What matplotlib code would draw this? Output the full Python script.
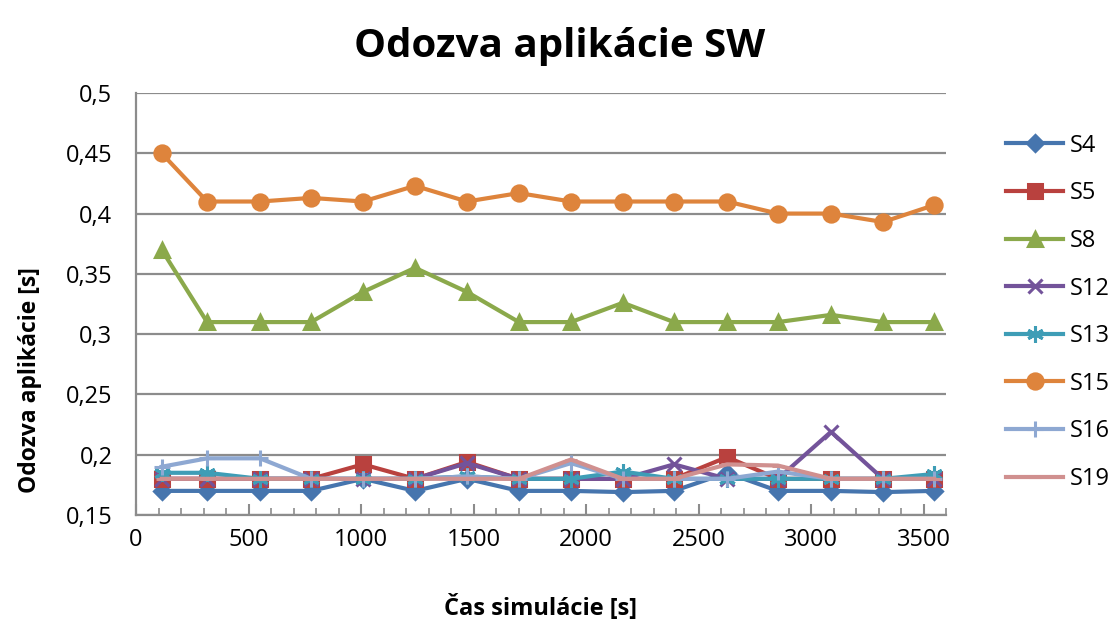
import matplotlib.pyplot as plt
from matplotlib.ticker import FuncFormatter, MultipleLocator

plt.rcParams['font.family'] = ['Open Sans', 'DejaVu Sans']

# simulation time of each sample [s]
cas = [114, 316, 551, 778, 1009, 1240, 1471, 1702, 1933, 2164, 2391, 2627, 2853, 3089, 3320, 3547]

# application response per station [s]
s4 = [0.17, 0.17, 0.17, 0.17, 0.18, 0.17, 0.18, 0.17, 0.17, 0.169, 0.17, 0.185, 0.17, 0.17, 0.169, 0.17]
s5 = [0.18, 0.18, 0.18, 0.18, 0.192, 0.18, 0.194, 0.18, 0.18, 0.18, 0.18, 0.198, 0.18, 0.18, 0.18, 0.18]
s8 = [0.37, 0.31, 0.31, 0.31, 0.335, 0.355, 0.335, 0.31, 0.31, 0.326, 0.31, 0.31, 0.31, 0.316, 0.31, 0.31]
s12 = [0.18, 0.18, 0.18, 0.18, 0.18, 0.18, 0.193, 0.18, 0.18, 0.18, 0.192, 0.18, 0.18, 0.219, 0.18, 0.18]
s13 = [0.185, 0.185, 0.18, 0.18, 0.18, 0.18, 0.182, 0.18, 0.18, 0.186, 0.18, 0.18, 0.18, 0.18, 0.18, 0.184]
s15 = [0.45, 0.41, 0.41, 0.413, 0.41, 0.423, 0.41, 0.417, 0.41, 0.41, 0.41, 0.41, 0.40, 0.40, 0.393, 0.407]
s16 = [0.19, 0.197, 0.197, 0.18, 0.18, 0.18, 0.182, 0.18, 0.193, 0.18, 0.18, 0.18, 0.186, 0.18, 0.18, 0.18]
s19 = [0.18, 0.18, 0.18, 0.18, 0.18, 0.18, 0.18, 0.18, 0.196, 0.18, 0.18, 0.192, 0.191, 0.18, 0.18, 0.18]

series = [
    ('S4', s4, '#4675AE', 'D', 8),
    ('S5', s5, '#B9413E', 's', 10),
    ('S8', s8, '#8BA94B', '^', 10),
    ('S12', s12, '#73539A', 'x', 10),
    ('S13', s13, '#3E9DB6', (6, 2, 0), 12),
    ('S15', s15, '#DE843C', 'o', 11),
    ('S16', s16, '#8EA8D2', '+', 12),
    ('S19', s19, '#D0908F', '_', 9),
]

grid_col = '#8C8C8C'

fig = plt.figure(figsize=(11.13, 6.26), dpi=100)
ax = fig.add_axes([136 / 1113, 1 - 515 / 626, (946 - 136) / 1113, (515 - 93) / 626])

for name, vals, col, mk, ms in series:
    ax.plot(cas, vals, color=col, lw=3, marker=mk, ms=ms, mew=2.2,
            mfc=col, mec=col, label=name, solid_joinstyle='round')

ax.set_xlim(0, 3600)
ax.set_ylim(0.15, 0.5)
ax.xaxis.set_major_locator(MultipleLocator(500))
ax.xaxis.set_minor_locator(MultipleLocator(100))
ax.yaxis.set_major_locator(MultipleLocator(0.05))
ax.xaxis.set_major_formatter(FuncFormatter(lambda v, p: f'{v:g}' if v <= 3500 else ''))
ax.yaxis.set_major_formatter(FuncFormatter(lambda v, p: f'{v:.2f}'.rstrip('0').replace('.', ',')))

ax.grid(axis='y', color=grid_col, lw=1.6)
ax.set_axisbelow(True)
for s in ('top', 'right'):
    ax.spines[s].set_visible(False)
for s in ('left', 'bottom'):
    ax.spines[s].set_color(grid_col)
    ax.spines[s].set_linewidth(1.6)

ax.tick_params(axis='x', which='major', direction='in', length=8, width=1.5,
               color=grid_col, labelsize=17, pad=9)
ax.tick_params(axis='x', which='minor', direction='in', length=5, width=1.2, color=grid_col)
ax.tick_params(axis='y', length=0, labelsize=17, pad=17)

ax.set_title('Odozva aplikácie SW', fontsize=29, fontweight='bold', pad=26, x=0.523)
ax.set_xlabel('Čas simulácie [s]', fontsize=17, fontweight='bold', labelpad=31)
ax.set_ylabel('Odozva aplikácie [s]', fontsize=16.5, fontweight='bold')
ax.yaxis.set_label_coords(-0.116, 0.32)

ax.legend(loc='upper left', bbox_to_anchor=(1.063, 0.926), frameon=False,
          fontsize=17, handlelength=2.4, handletextpad=0.3, labelspacing=1.0,
          borderaxespad=0)

fig.savefig('out.png', dpi=100)
